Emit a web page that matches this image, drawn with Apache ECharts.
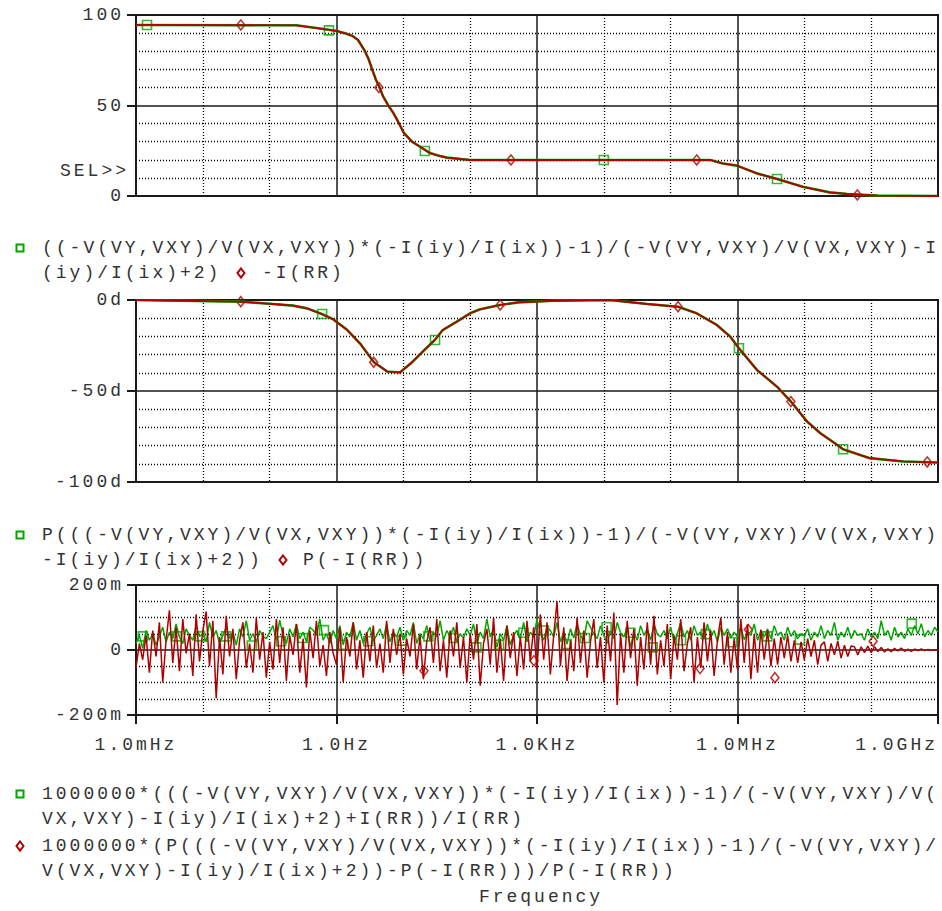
<!DOCTYPE html>
<html>
<head>
<meta charset="utf-8">
<script src="https://cdn.jsdelivr.net/npm/echarts@6/dist/echarts.min.js"></script>
<style>
html, body { margin: 0; padding: 0; background: #fff; }
#chart { width: 942px; height: 911px; }
/* PSpice 等宽字体字距较宽 */
#chart text { letter-spacing: 3px; }
</style>
</head>
<body>
<div id="chart"></div>
<script>
// 频率轴刻度 (每3个十倍频一个主刻度)
const xTickLabels = ['1.0mHz', '1.0Hz', '1.0KHz', '1.0MHz', '1.0GHz'];

// 图1：幅值 (两条曲线重合)
const magFreq = [1e-3, 0.25, 0.57, 1.0, 1.35, 1.74, 2.1, 2.6, 3.0, 3.4, 3.9, 4.4, 5.0, 5.9, 7.1, 8.1,
  10.2, 13.5, 17.8, 25, 35, 45, 100, 3.9e5, 6.0e5, 9.8e5, 1.95e6, 3.9e6, 9.5e6, 2.4e7, 4.4e7, 1.26e8, 1e9];
const magVal = [94.5, 94.3, 92.5, 91.2, 89.9, 88.4, 86.2, 80.7, 75.9, 70.2, 64.1, 60, 54.9, 50.3, 45.8, 42,
  34.8, 30, 27.2, 23.7, 22.1, 21.2, 19.9, 19.9, 18, 16.8, 12.5, 9.4, 5.1, 2, 1.1, 0.2, 0];
const magSqFreq = [1.46e-3, 0.77, 21, 1.0e4, 3.9e6];
const magSqVal = [94.5, 91.5, 24.9, 19.9, 9.4];
const magDiaFreq = [0.037, 4.3, 407, 2.45e5, 6.2e7];
const magDiaVal = [94.5, 60, 19.9, 19.9, 0.6];

// 图2：相位 (度)
const phFreq = [1e-3, 0.036, 0.112, 0.224, 0.363, 0.603, 0.89, 1.45, 2.24, 3.63, 5.75, 8.9, 13.8, 19.5,
  29.5, 38.9, 63, 100, 141, 282, 525, 1740, 1.23e4, 4.47e4, 1.29e5, 2.45e5, 4.9e5, 7.76e5, 1.05e6,
  1.95e6, 3.9e6, 6.3e6, 1.1e7, 1.74e7, 3.1e7, 3.8e7, 9.5e7, 3.0e8, 1e9];
const phVal = [0, -0.9, -2.2, -3.1, -4.6, -7.7, -10.6, -16.5, -23.8, -34.2, -39.3, -39.8, -33.9, -28.4,
  -22, -16.5, -11.9, -7.3, -5.1, -2.7, -1.3, -0.4, 0, -2.2, -3.7, -7.3, -13.7, -20.1, -26.5,
  -38.4, -47.6, -55.8, -66.8, -73.2, -79.6, -82, -86.9, -88.7, -89.3];
const phSqFreq = [0.61, 29.8, 1.05e6, 3.8e7];
const phSqVal = [-7.7, -22, -26.5, -82];
const phDiaFreq = [0.037, 3.6, 282, 1.29e5, 6.3e6, 6.9e8];
const phDiaVal = [-0.9, -34.2, -2.7, -3.7, -55.8, -89];

// 图3：相对误差 (单位 m)，扫描 1mHz 起每十倍频 20 点
const noiseStart = 1e-3;
const noisePerDecade = 20;
const errGreen = [
  20, 45, 5, 60, 30, 50, 15, 42, 70, 25, 55, 35, 80, 40, 20, 65, 45, 30, 75, 42,
  50, 25, 85, 40, 60, 20, 45, 70, 35, 55, 15, 65, 40, 90, 30, 50, 25, 60, 42, 35,
  55, 75, 30, 92, 45, 20, 65, 40, 80, 35, 55, 25, 70, 61, 45, 95, 30, 50, 20, 60,
  35, 75, 16, 55, 40, 85, 30, 60, 20, 50, 70, 27, 45, 65, 35, 80, 25, 55, 40, 70,
  30, 60, 45, 85, 20, 50, 35, 75, 29, 55, 40, 90, 30, 60, 42, 70, 25, 50, 37, 65,
  45, 80, 20, 55, 35, 95, 40, 65, 8, 50, 30, 75, 16, 45, 60, 35, 85, 25, 55, 40,
  95, 53, 30, 70, 60, 40, 85, 25, 55, 18, 65, 37, 80, 45, 30, 90, 70, 50, 35, 75,
  45, 20, 60, 35, 85, 53, 40, 70, 8, 55, 30, 75, 45, 65, 30, 80, 49, 40, 60, 35,
  70, 24, 50, 85, 40, 60, 30, 75, 45, 55, 35, 80, 42, 60, 25, 70, 45, 65, 38, 55,
  40, 70, 32, 55, 45, 80, 30, 60, 40, 65, 35, 75, 45, 55, 30, 70, 42, 60, 35, 50,
  45, 65, 30, 55, 40, 75, 35, 60, 45, 85, 30, 55, 40, 70, 35, 60, 45, 50, 30, 65,
  40, 55, 35, 90, 45, 60, 30, 70, 40, 55, 35, 65, 45, 75, 50, 81, 40, 60, 45, 70, 55
];
const errRed = [
  -55, 20, -30, 45, -70, 60, -20, 85, -100, 30, 122, -40, 70, -65, 95, -10, 50, -80, 110, -35,
  60, 118, -50, 90, -148, 40, -75, 105, -20, 65, -90, 30, 85, -55, 20, -70, 100, -30, 55, -85,
  25, -60, 95, -40, 70, -95, 45, -15, 80, -70, 35, -115, 60, -25, 90, -50, 15, -80, 55, -10,
  -45, 70, -100, 40, -20, 85, -60, 30, -85, 55, -35, 75, -55, 20, -70, 90, -40, 65, -15, 50,
  -75, 35, -20, 80, -60, 45, -90, 25, 70, -40, 95, -65, 30, -85, 60, -20, 85, -55, 40, -100,
  50, -30, 80, -110, 20, 65, -45, 100, -70, 35, -95, 75, -25, 55, -80, 40, -60, 90, -35, 70,
  -60, 110, -30, 85, -75, 45, 150, -50, 70, -95, 30, -65, 100, -40, 60, -85, 25, 95, -55, 40,
  -100, 75, -35, 115, -169, 50, -70, 90, -25, 65, -110, 40, -60, 85, -45, 105, -75, 30, -50, 80,
  -90, 45, -30, 95, -65, 20, 70, -100, 40, -55, 85, -35, 60, -80, 30, 100, -45, 55, -70, 35,
  -60, 95, -40, 80, -90, 50, -70, 63, -30, 60, -50, 35, -45, 40, -25, 45, -35, 30, -40, 25,
  -30, 35, -20, 30, -45, 15, 25, -35, 20, -15, 27, -25, 15, -20, 12, 10, -15, 10, -8, 12,
  -8, 10, -5, 8, -6, 4, -5, 5, -3, 6, -4, 3, -4, 3, -2, 3, -2, 2, -1, 1, 0
];
const errSqFreq = [1.26e-3, 4.06e-3, 9.1e-3, 0.0223, 0.054, 0.148, 0.312, 0.65, 1.26, 2.99, 9.46, 23.7,
  56, 124, 270, 624, 1273, 2785, 5240, 1.1e4, 2.5e4, 5.4e4, 1.43e5, 3.35e5, 8.3e5, 2.8e6, 8.6e6, 4.05e8];
const errSqVal = [42, 42, 42, 42, 14, 27, 37, 61, 16, 27, 29, 42,
  37, 8, 16, 53, 60, 18, 37, 70, 53, 8, 30, 49, 24, 42, 32, 81];
const errDiaFreq = [20.4, 900, 2.75e5, 1.45e6, 3.63e6, 1.07e8];
const errDiaVal = [-64, -33, -57, 63, -85, 27];

(function () {
    const GREEN = '#00a800';
    const RED = '#b00000';
    const INK = '#1a1a1a';
    const FONT = 'Liberation Mono';
    const lg = Math.log10;

    function pairs(freqs, vals) {
        return freqs.map(function (f, i) { return [lg(f), vals[i]]; });
    }
    function sweep(vals) {
        return vals.map(function (v, i) { return [lg(noiseStart) + i / noisePerDecade, v]; });
    }

    const grids = [
        { left: 136, top: 15, width: 802, height: 181 },
        { left: 136, top: 300, width: 802, height: 182 },
        { left: 136, top: 585, width: 802, height: 130 }
    ].map(function (g) {
        return Object.assign({ show: true, borderColor: INK, borderWidth: 2, backgroundColor: 'transparent' }, g);
    });

    const dotted = { show: true, lineStyle: { color: '#000', width: 1.3, type: [1, 2] } };

    function makeX(idx, withLabels) {
        return {
            type: 'value', gridIndex: idx, min: -3, max: 9, interval: 3,
            axisLine: { show: true, onZero: false, lineStyle: { color: INK, width: 2 } },
            axisTick: { show: withLabels, length: 9, lineStyle: { color: INK, width: 2 } },
            axisLabel: {
                show: withLabels, margin: 21, color: '#333', fontFamily: FONT, fontSize: 18,
                alignMaxLabel: 'right',
                formatter: function (v) { return xTickLabels[Math.round((v + 3) / 3)]; }
            },
            splitLine: { show: true, lineStyle: { color: INK, width: 1.5 } },
            minorTick: { show: false, splitNumber: 3 },
            minorSplitLine: dotted
        };
    }

    function makeY(idx, min, max, interval, minorSplit, fmt) {
        return {
            type: 'value', gridIndex: idx, min: min, max: max, interval: interval,
            axisLine: { show: true, onZero: false, lineStyle: { color: INK, width: 2 } },
            axisTick: { show: true, length: 9, lineStyle: { color: INK, width: 2 } },
            axisLabel: { margin: 12, color: '#333', fontFamily: FONT, fontSize: 18, formatter: fmt },
            splitLine: { show: true, lineStyle: { color: INK, width: 1.5 } },
            minorTick: { show: false, splitNumber: minorSplit },
            minorSplitLine: dotted
        };
    }

    function line(idx, data, color, width) {
        return {
            type: 'line', xAxisIndex: idx, yAxisIndex: idx, data: data,
            showSymbol: false, symbol: 'none', lineStyle: { color: color, width: width }
        };
    }
    function marks(idx, data, shape, color, size) {
        return {
            type: 'scatter', xAxisIndex: idx, yAxisIndex: idx, data: data,
            symbol: shape, symbolSize: size,
            itemStyle: { color: 'rgba(0,0,0,0)', borderColor: color, borderWidth: 1.6 }
        };
    }

    // 图例文字与符号
    function txt(str, x, y, align) {
        return {
            type: 'text', x: x, y: y, silent: true,
            style: { text: str, fill: '#333', font: '18px "' + FONT + '"', align: align || 'left', verticalAlign: 'middle' }
        };
    }
    function sq(x, y) {
        return { type: 'rect', silent: true, shape: { x: x - 3.5, y: y - 3.5, width: 7, height: 7 },
            style: { fill: 'none', stroke: GREEN, lineWidth: 2 } };
    }
    function dia(x, y) {
        return { type: 'polygon', silent: true, shape: { points: [[x, y - 4.5], [x + 3.5, y], [x, y + 4.5], [x - 3.5, y]] },
            style: { fill: 'none', stroke: RED, lineWidth: 2 } };
    }

    const graphics = [
        txt('SEL>>', 129, 171, 'right'),
        sq(20, 248),
        txt('((-V(VY,VXY)/V(VX,VXY))*(-I(iy)/I(ix))-1)/(-V(VY,VXY)/V(VX,VXY)-I', 42, 248),
        txt('(iy)/I(ix)+2)', 42, 273),
        dia(241, 273),
        txt('-I(RR)', 262, 273),
        sq(20, 535),
        txt('P(((-V(VY,VXY)/V(VX,VXY))*(-I(iy)/I(ix))-1)/(-V(VY,VXY)/V(VX,VXY)', 42, 535),
        txt('-I(iy)/I(ix)+2))', 42, 560),
        dia(283, 560),
        txt('P(-I(RR))', 303, 560),
        sq(20, 794),
        txt('1000000*(((-V(VY,VXY)/V(VX,VXY))*(-I(iy)/I(ix))-1)/(-V(VY,VXY)/V(', 42, 794),
        txt('VX,VXY)-I(iy)/I(ix)+2)+I(RR))/I(RR)', 42, 819),
        dia(20, 846),
        txt('1000000*(P(((-V(VY,VXY)/V(VX,VXY))*(-I(iy)/I(ix))-1)/(-V(VY,VXY)/', 42, 846),
        txt('V(VX,VXY)-I(iy)/I(ix)+2))-P(-I(RR)))/P(-I(RR))', 42, 871),
        txt('Frequency', 541, 897, 'center')
    ];

    const chart = echarts.init(document.getElementById('chart'), null, { renderer: 'svg' });
    chart.setOption({
        animation: false,
        backgroundColor: '#fff',
        grid: grids,
        xAxis: [makeX(0, false), makeX(1, false), makeX(2, true)],
        yAxis: [
            makeY(0, 0, 100, 50, 5, function (v) { return String(v); }),
            makeY(1, -100, 0, 50, 5, function (v) { return v + 'd'; }),
            makeY(2, -200, 200, 200, 4, function (v) { return v === 0 ? '0' : v + 'm'; })
        ],
        graphic: graphics,
        series: [
            line(0, pairs(magFreq, magVal), GREEN, 2.6),
            line(0, pairs(magFreq, magVal), RED, 1.8),
            marks(0, pairs(magSqFreq, magSqVal), 'rect', GREEN, 9),
            marks(0, pairs(magDiaFreq, magDiaVal), 'diamond', RED, [8, 10]),

            line(1, pairs(phFreq, phVal), GREEN, 2.6),
            line(1, pairs(phFreq, phVal), RED, 1.8),
            marks(1, pairs(phSqFreq, phSqVal), 'rect', GREEN, 9),
            marks(1, pairs(phDiaFreq, phDiaVal), 'diamond', RED, [8, 10]),

            line(2, sweep(errGreen), GREEN, 1.5),
            line(2, sweep(errRed), RED, 1.5),
            marks(2, pairs(errSqFreq, errSqVal), 'rect', GREEN, 9),
            marks(2, pairs(errDiaFreq, errDiaVal), 'diamond', RED, [8, 10])
        ]
    });

    window.addEventListener('resize', function () { chart.resize(); });
})();
</script>
</body>
</html>
